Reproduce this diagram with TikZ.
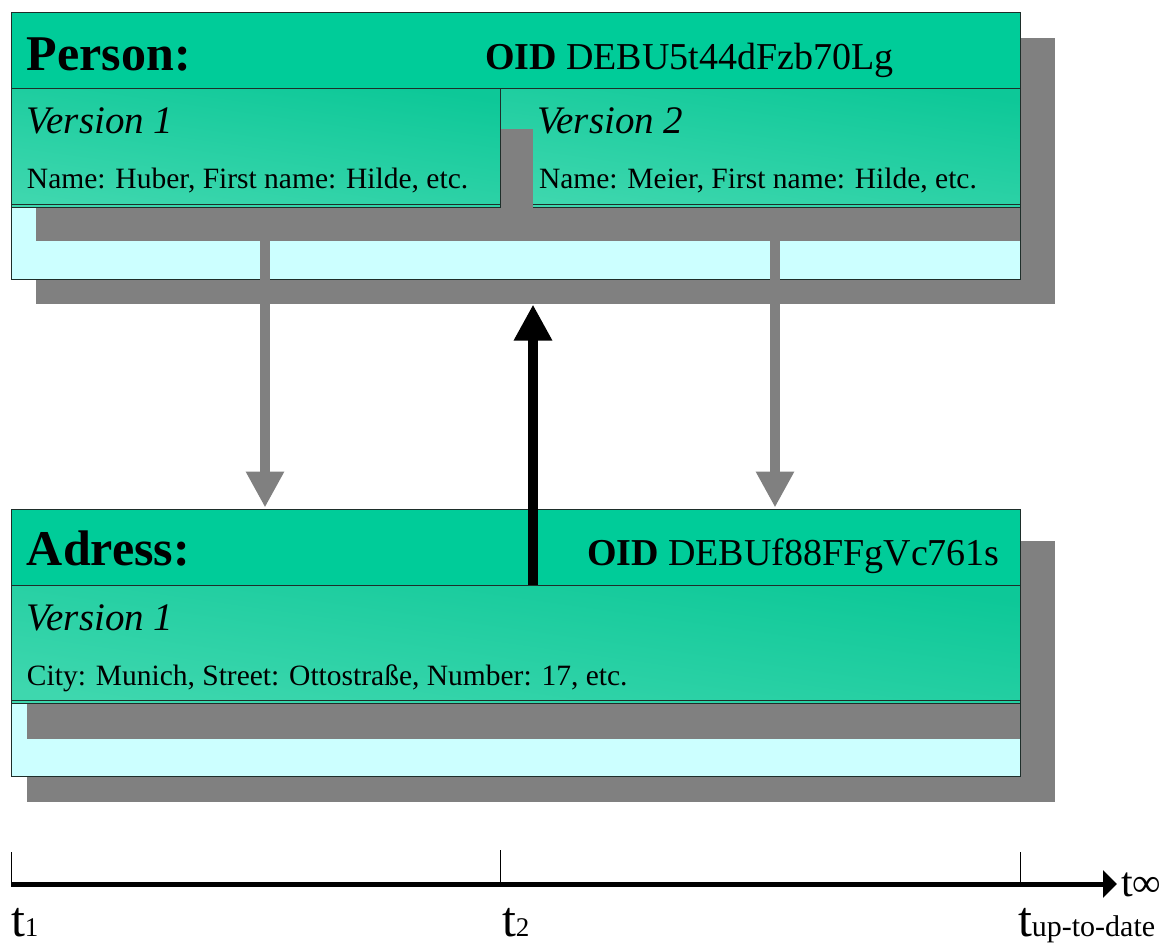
\documentclass[tikz,border=0pt]{standalone}
\usepackage{fontspec}
\setmainfont{Liberation Serif}
\usetikzlibrary{arrows.meta}
\definecolor{teal1}{HTML}{00CC99}
\definecolor{tealtop}{HTML}{0DC898}
\definecolor{tealbot}{HTML}{3ED7AE}
\definecolor{paleCyan}{HTML}{CCFFFF}
\definecolor{shadowGray}{HTML}{808080}
\definecolor{edgeDark}{HTML}{1E2E2A}
\begin{document}
\begin{tikzpicture}[x=1pt,y=-1pt,
  box/.style={anchor=north west, inner sep=0pt, outer sep=0pt},
  shadowbox/.style={box, fill=shadowGray},
  outerbox/.style={box, fill=paleCyan, draw=edgeDark, line width=1pt},
  headband/.style={box, fill=teal1, draw=edgeDark, line width=1pt},
  versionbox/.style={box, top color=tealtop, bottom color=tealbot, shading angle=-8, draw=edgeDark, line width=1pt},
  innerline/.style={draw=edgeDark, line width=0.8pt},
  txt/.style={anchor=base west, inner sep=0pt, outer sep=0pt},
  axtxt/.style={txt, text depth=0pt},
  titlefont/.style={font=\fontsize{50}{50}\selectfont\bfseries},
  oidfont/.style={font=\fontsize{38}{38}\selectfont},
  verfont/.style={font=\fontsize{39}{39}\selectfont\itshape},
  datafont/.style={font=\fontsize{29.5}{29.5}\selectfont},
  grayarrow/.style={draw=shadowGray, line width=10pt, -{Triangle[length=36pt,width=36pt]}},
  blackarrow/.style={draw=black, line width=10pt, -{Triangle[length=36pt,width=36pt]}},
  axisline/.style={draw=black, line width=5pt, -{Triangle[length=14pt,width=27pt]}},
  tick/.style={draw=black, line width=0.8pt}
]
\useasboundingbox (0,0) rectangle (1168,946);

% ---------- Person ----------
\node[shadowbox, minimum width=1019pt, minimum height=266pt] (pshadow) at (36,38) {};
\node[outerbox, minimum width=1009pt, minimum height=267pt] (pbox) at (11,12) {};
\node[shadowbox, minimum width=984pt, minimum height=34pt] (pband) at (36,207) {};
\node[versionbox, minimum width=489pt, minimum height=119pt] (pv1) at (11,88) {};
\node[versionbox, minimum width=520pt, minimum height=119pt] (pv2) at (500,88) {};
\draw[innerline] ([yshift=3pt]pv1.south west) -- ([yshift=3pt]pv1.south east);
\draw[innerline] ([yshift=3pt]pv2.south west) -- ([yshift=3pt]pv2.south east);
\node[shadowbox, minimum width=32pt, minimum height=112pt] (pbar) at (501,129) {};
\node[headband, minimum width=1009pt, minimum height=76pt] (phead) at (11,12) {};

\node[txt, titlefont] (ptitle) at (27,70) {Person:};
\node[txt, oidfont] (poid) at (485,69) {\textbf{OID} DEBU5t44dFzb70Lg};
\node[txt, verfont] (pv1t) at (27,133) {Version 1};
\node[txt, datafont] (pv1d) at (27,188) {Name: Huber, First name: Hilde, etc.};
\node[txt, verfont] (pv2t) at (537,133) {Version 2};
\node[txt, datafont] (pv2d) at (539,188) {Name: Meier, First name: Hilde, etc.};

% ---------- Adress ----------
\node[shadowbox, minimum width=1028pt, minimum height=261pt] (ashadow) at (27,541) {};
\node[outerbox, minimum width=1009pt, minimum height=267pt] (abox) at (11,509) {};
\node[shadowbox, minimum width=993pt, minimum height=36pt] (aband) at (27,703) {};
\node[versionbox, minimum width=1009pt, minimum height=118pt] (av1) at (11,585) {};
\draw[innerline] ([yshift=3pt]av1.south west) -- ([yshift=3pt]av1.south east);
\node[headband, minimum width=1009pt, minimum height=76pt] (ahead) at (11,509) {};

\node[txt, titlefont] (atitle) at (27,565) {Adress:};
\node[txt, oidfont] (aoid) at (587,565) {\textbf{OID} DEBUf88FFgVc761s};
\node[txt, verfont] (av1t) at (27,630) {Version 1};
\node[txt, datafont] (av1d) at (27,685) {City: Munich, Street: Ottostraße, Number: 17, etc.};

% ---------- Connectors ----------
\coordinate (g1) at (265,210);
\coordinate (g2) at (775,210);
\draw[grayarrow, shorten >=1.5pt] (g1) -- (g1 |- abox.north);
\draw[grayarrow, shorten >=1.5pt] (g2) -- (g2 |- abox.north);
\coordinate (b1) at (533,585);
\draw[blackarrow, shorten >=0.5pt] (b1) -- (b1 |- pshadow.south);

% ---------- Time axis ----------
\coordinate (ax0) at (11,884);
\coordinate (ax1) at (1117,884);
\coordinate (tk1) at (11,852);
\coordinate (tk2) at (500,850);
\coordinate (tk3) at (1020,852);
\draw[tick] (tk1) -- (tk1 |- ax0);
\draw[tick] (tk2) -- (tk2 |- ax0);
\draw[tick] (tk3) -- (tk3 |- ax0);
\draw[axisline] (ax0) -- (ax1);

\node[axtxt] (lt1) at (11,936) {\fontsize{50}{50}\selectfont t\fontsize{27}{27}\selectfont 1};
\node[axtxt] (lt2) at (502,936) {\fontsize{50}{50}\selectfont t\fontsize{27}{27}\selectfont 2};
\node[axtxt] (lt3) at (1018,936) {\fontsize{50}{50}\selectfont t\fontsize{30}{30}\selectfont up-to-date};
\node[axtxt] (lt4) at (1121,896) {\fontsize{42}{42}\selectfont t\fontsize{40}{40}\selectfont ∞};
\end{tikzpicture}
\end{document}
